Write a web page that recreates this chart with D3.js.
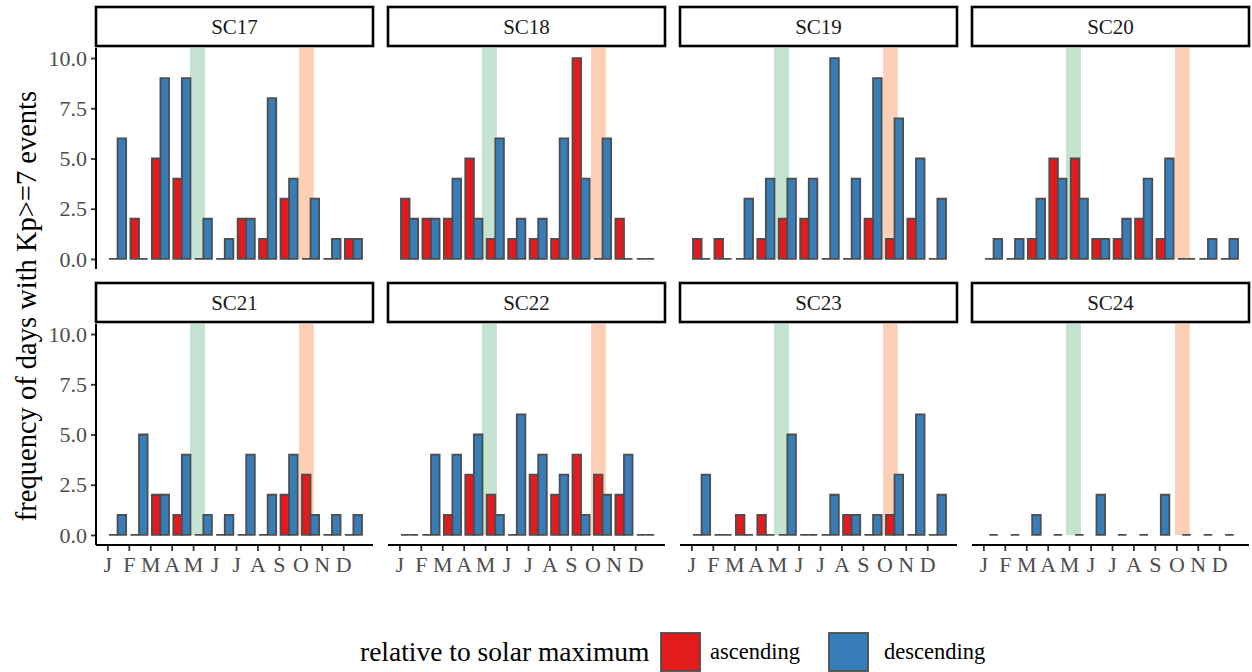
<!DOCTYPE html>
<html>
<head>
<meta charset="utf-8">
<script src="https://cdn.jsdelivr.net/npm/d3@7"></script>
<style>
  html, body { margin: 0; padding: 0; background: #fff; }
  svg text { font-family: "Liberation Serif", "DejaVu Serif", serif; }
</style>
</head>
<body>
<svg id="chart" width="1252" height="672"></svg>
<script>
// Month tick labels and solar cycle facets
const monthLabels = ["J", "F", "M", "A", "M", "J", "J", "A", "S", "O", "N", "D"];
const cycles = ["SC17", "SC18", "SC19", "SC20", "SC21", "SC22", "SC23", "SC24"];
const yTicks = [0, 2.5, 5, 7.5, 10];

// Days with Kp>=7 per calendar month, split by phase of the solar cycle
const ascSC17  = [0, 2, 5, 4, 0, 0, 2, 1, 3, 0, 0, 1];
const descSC17 = [6, 0, 9, 9, 2, 1, 2, 8, 4, 3, 1, 1];
const ascSC18  = [3, 2, 2, 5, 1, 1, 1, 1, 10, 0, 2, 0];
const descSC18 = [2, 2, 4, 2, 6, 2, 2, 6, 4, 6, 0, 0];
const ascSC19  = [1, 1, 0, 1, 2, 2, 0, 0, 2, 1, 2, 0];
const descSC19 = [0, 0, 3, 4, 4, 4, 10, 4, 9, 7, 5, 3];
const ascSC20  = [0, 0, 1, 5, 5, 1, 1, 2, 1, 0, 0, 0];
const descSC20 = [1, 1, 3, 4, 3, 1, 2, 4, 5, 0, 1, 1];
const ascSC21  = [0, 0, 2, 1, 0, 0, 0, 0, 2, 3, 0, 0];
const descSC21 = [1, 5, 2, 4, 1, 1, 4, 2, 4, 1, 1, 1];
const ascSC22  = [0, 0, 1, 3, 2, 0, 3, 2, 4, 3, 2, 0];
const descSC22 = [0, 4, 4, 5, 1, 6, 4, 3, 1, 2, 4, 0];
const ascSC23  = [0, 0, 1, 1, 0, 0, 0, 1, 0, 1, 0, 0];
const descSC23 = [3, 0, 0, 0, 5, 0, 2, 1, 1, 3, 6, 2];
const ascSC24  = null; // no ascending-phase records in this cycle
const descSC24 = [0, 0, 1, 0, 0, 2, 0, 0, 2, 0, 0, 0];

// Shaded seasonal windows, in month units
const greenBand = [4.85, 5.55];
const orangeBand = [9.94, 10.63];

const phases = ["ascending", "descending"];
const phaseColors = ["#e41a1c", "#377eb8"];

const ascByCycle = [ascSC17, ascSC18, ascSC19, ascSC20, ascSC21, ascSC22, ascSC23, ascSC24];
const descByCycle = [descSC17, descSC18, descSC19, descSC20, descSC21, descSC22, descSC23, descSC24];

// ---- layout ----
const svg = d3.select("#chart");
const colX = [96, 388, 680, 972];
const rowY = [48, 324];
const panelW = 277, panelH = 221;
const stripH = 39, stripGap = 2;
const barStroke = "#4d4d4d";
const groupW = 0.8;
const groupOffset = 0.476;

const x = d3.scaleLinear().domain([0.47, 13.39]).range([0, panelW]);
const y = d3.scaleLinear().domain([-0.5, 10.5]).range([panelH, 0]);
const color = d3.scaleOrdinal().domain(phases).range(phaseColors);

function barPath(x0, x1, v) {
  const p = d3.path();
  p.moveTo(x(x0), y(0));
  p.lineTo(x(x1), y(0));
  p.lineTo(x(x1), y(v));
  p.lineTo(x(x0), y(v));
  p.closePath();
  return p.toString();
}

cycles.forEach((name, i) => {
  const col = i % 4, row = Math.floor(i / 4);
  const g = svg.append("g").attr("transform", `translate(${colX[col]},${rowY[row]})`);

  // strip
  g.append("rect")
    .attr("x", 0).attr("y", -stripH - stripGap)
    .attr("width", panelW).attr("height", stripH)
    .attr("fill", "#fff").attr("stroke", "#000").attr("stroke-width", 2.6);
  g.append("text")
    .attr("x", panelW / 2).attr("y", -stripGap - stripH / 2)
    .attr("dy", "0.35em").attr("text-anchor", "middle")
    .attr("font-size", 21).attr("fill", "#1a1a1a")
    .text(name);

  // seasonal bands
  [[greenBand, "#c4e3d0"], [orangeBand, "#fdd0b6"]].forEach(([b, c]) => {
    g.append("rect")
      .attr("x", x(b[0])).attr("width", x(b[1]) - x(b[0]))
      .attr("y", y(10.5)).attr("height", y(0) - y(10.5))
      .attr("fill", c);
  });

  // bars
  const asc = ascByCycle[i], desc = descByCycle[i];
  const rows = [];
  monthLabels.forEach((m, k) => {
    const c = k + 1 + groupOffset;
    if (asc) {
      rows.push({ phase: "ascending", x0: c - groupW / 2, x1: c, v: asc[k] });
      rows.push({ phase: "descending", x0: c, x1: c + groupW / 2, v: desc[k] });
    } else {
      rows.push({ phase: "descending", x0: c - groupW / 4, x1: c + groupW / 4, v: desc[k] });
    }
  });
  g.selectAll("path.bar").data(rows).join("path")
    .attr("class", "bar")
    .attr("d", d => barPath(d.x0, d.x1, d.v))
    .attr("fill", d => color(d.phase))
    .attr("stroke", barStroke).attr("stroke-width", 1.8)
    .attr("stroke-linejoin", "miter");

  // y axis on the left column
  if (col === 0) {
    const ya = g.append("g").call(
      d3.axisLeft(y).tickValues(yTicks).tickSize(5).tickPadding(4)
        .tickFormat(d3.format(".1f"))
    );
    ya.select(".domain").remove();
    ya.selectAll(".tick line").attr("stroke", "#333").attr("stroke-width", 1.8);
    ya.selectAll(".tick text").attr("font-size", 22).attr("fill", "#4d4d4d")
      .attr("font-family", "Liberation Serif, serif");
    g.append("line")
      .attr("x1", 0).attr("x2", 0).attr("y1", 0).attr("y2", panelH)
      .attr("stroke", "#000").attr("stroke-width", 2);
  }

  // x axis on the bottom row
  if (row === 1) {
    const xa = g.append("g").attr("transform", `translate(0,${panelH})`).call(
      d3.axisBottom(x).tickValues(d3.range(1, 13)).tickSize(6).tickPadding(5)
        .tickFormat((d, k) => monthLabels[k])
    );
    xa.select(".domain").remove();
    xa.selectAll(".tick line").attr("stroke", "#333").attr("stroke-width", 1.8);
    xa.selectAll(".tick text").attr("font-size", 22).attr("fill", "#4d4d4d")
      .attr("font-family", "Liberation Serif, serif");
    g.append("line")
      .attr("x1", 0).attr("x2", panelW).attr("y1", panelH).attr("y2", panelH)
      .attr("stroke", "#000").attr("stroke-width", 2);
  }
});

// y axis title
svg.append("text")
  .attr("transform", "translate(36,306) rotate(-90)")
  .attr("text-anchor", "middle")
  .attr("font-size", 28.5).attr("fill", "#000")
  .text("frequency of days with Kp>=7 events");

// legend
const legend = svg.append("g");
legend.append("text")
  .attr("x", 360).attr("y", 661)
  .attr("font-size", 27.5).attr("fill", "#000")
  .text("relative to solar maximum");
const keyX = [661, 829];
const labelX = [710, 884];
phases.forEach((p, k) => {
  legend.append("rect")
    .attr("x", keyX[k]).attr("y", 633).attr("width", 39).attr("height", 38)
    .attr("fill", color(p)).attr("stroke", barStroke).attr("stroke-width", 1.8);
  legend.append("text")
    .attr("x", labelX[k]).attr("y", 659)
    .attr("font-size", 22.5).attr("fill", "#000")
    .text(p);
});
</script>
</body>
</html>
